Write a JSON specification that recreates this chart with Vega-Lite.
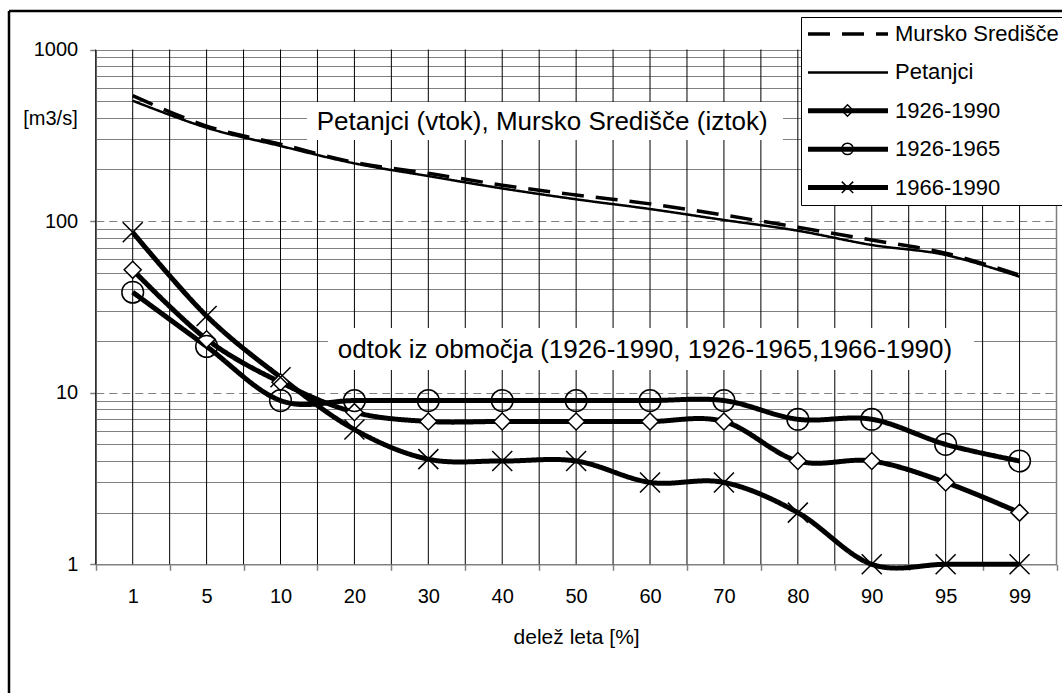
{
  "$schema": "https://vega.github.io/schema/vega-lite/v6.json",
  "width": 1053,
  "height": 682,
  "autosize": "none",
  "padding": {"left": 9, "top": 11, "right": 0, "bottom": 0},
  "background": "white",
  "config": {
    "font": "Liberation Sans",
    "view": {"stroke": "black", "strokeWidth": 2.5, "fill": "white", "strokeDash": [1053, 1735, 682, 0]}
  },
  "data": {
    "values": [
      {"p": "1", "s": "Mursko Središče", "q": 538},
      {"p": "5", "s": "Mursko Središče", "q": 358},
      {"p": "10", "s": "Mursko Središče", "q": 281},
      {"p": "20", "s": "Mursko Središče", "q": 220},
      {"p": "30", "s": "Mursko Središče", "q": 190},
      {"p": "40", "s": "Mursko Središče", "q": 162},
      {"p": "50", "s": "Mursko Središče", "q": 142},
      {"p": "60", "s": "Mursko Središče", "q": 126},
      {"p": "70", "s": "Mursko Središče", "q": 108.5},
      {"p": "80", "s": "Mursko Središče", "q": 92},
      {"p": "90", "s": "Mursko Središče", "q": 77.6},
      {"p": "95", "s": "Mursko Središče", "q": 65},
      {"p": "99", "s": "Mursko Središče", "q": 48.5},
      {"p": "1", "s": "Petanjci", "q": 503},
      {"p": "5", "s": "Petanjci", "q": 350},
      {"p": "10", "s": "Petanjci", "q": 274},
      {"p": "20", "s": "Petanjci", "q": 217},
      {"p": "30", "s": "Petanjci", "q": 183},
      {"p": "40", "s": "Petanjci", "q": 155},
      {"p": "50", "s": "Petanjci", "q": 134},
      {"p": "60", "s": "Petanjci", "q": 117.6},
      {"p": "70", "s": "Petanjci", "q": 101.5},
      {"p": "80", "s": "Petanjci", "q": 87.9},
      {"p": "90", "s": "Petanjci", "q": 72.6},
      {"p": "95", "s": "Petanjci", "q": 63.5},
      {"p": "99", "s": "Petanjci", "q": 47.4},
      {"p": "1", "s": "1926-1990", "q": 52},
      {"p": "5", "s": "1926-1990", "q": 20.5},
      {"p": "10", "s": "1926-1990", "q": 11.5},
      {"p": "20", "s": "1926-1990", "q": 7.7},
      {"p": "30", "s": "1926-1990", "q": 6.8},
      {"p": "40", "s": "1926-1990", "q": 6.8},
      {"p": "50", "s": "1926-1990", "q": 6.8},
      {"p": "60", "s": "1926-1990", "q": 6.8},
      {"p": "70", "s": "1926-1990", "q": 6.8},
      {"p": "80", "s": "1926-1990", "q": 4},
      {"p": "90", "s": "1926-1990", "q": 4},
      {"p": "95", "s": "1926-1990", "q": 3},
      {"p": "99", "s": "1926-1990", "q": 2},
      {"p": "1", "s": "1926-1965", "q": 38.5},
      {"p": "5", "s": "1926-1965", "q": 18.6},
      {"p": "10", "s": "1926-1965", "q": 9},
      {"p": "20", "s": "1926-1965", "q": 9},
      {"p": "30", "s": "1926-1965", "q": 9},
      {"p": "40", "s": "1926-1965", "q": 9},
      {"p": "50", "s": "1926-1965", "q": 9},
      {"p": "60", "s": "1926-1965", "q": 9},
      {"p": "70", "s": "1926-1965", "q": 9},
      {"p": "80", "s": "1926-1965", "q": 7},
      {"p": "90", "s": "1926-1965", "q": 7},
      {"p": "95", "s": "1926-1965", "q": 5},
      {"p": "99", "s": "1926-1965", "q": 4},
      {"p": "1", "s": "1966-1990", "q": 86},
      {"p": "5", "s": "1966-1990", "q": 28},
      {"p": "10", "s": "1966-1990", "q": 12.3},
      {"p": "20", "s": "1966-1990", "q": 6.1},
      {"p": "30", "s": "1966-1990", "q": 4.1},
      {"p": "40", "s": "1966-1990", "q": 4},
      {"p": "50", "s": "1966-1990", "q": 4},
      {"p": "60", "s": "1966-1990", "q": 3},
      {"p": "70", "s": "1966-1990", "q": 3},
      {"p": "80", "s": "1966-1990", "q": 2},
      {"p": "90", "s": "1966-1990", "q": 1},
      {"p": "95", "s": "1966-1990", "q": 1},
      {"p": "99", "s": "1966-1990", "q": 1}
    ]
  },
  "layer": [
    {
      "transform": [{"filter": "datum.s === 'Petanjci'"}],
      "mark": {"type": "rule", "color": "black", "strokeWidth": 1},
      "encoding": {
        "x": {
          "field": "p",
          "type": "ordinal",
          "scale": {
            "type": "band",
            "domain": ["1", "5", "10", "20", "30", "40", "50", "60", "70", "80", "90", "95", "99"],
            "range": [86.75, 1047.5],
            "paddingInner": 0,
            "paddingOuter": 0
          },
          "axis": {
            "orient": "bottom",
            "offset": -128.7,
            "tickBand": "extent",
            "grid": false,
            "domain": true,
            "domainColor": "#808080",
            "domainWidth": 1.5,
            "ticks": true,
            "tickSize": 6,
            "tickColor": "#808080",
            "tickWidth": 1.5,
            "labelFontSize": 20,
            "labelFont": "Liberation Sans",
            "labelColor": "black",
            "labelAngle": 0,
            "labelBaseline": "middle",
            "labelPadding": 26,
            "title": "delež leta [%]",
            "titleFont": "Liberation Sans",
            "titleFontSize": 21,
            "titleFontWeight": "normal",
            "titleColor": "black",
            "titleY": 72.7,
            "titleBaseline": "middle"
          }
        },
        "y": {"datum": 1, "type": "quantitative"},
        "y2": {"datum": 1000}
      }
    },
    {
      "transform": [{"filter": "datum.s === 'Petanjci'"}],
      "mark": {"type": "rule", "color": "black", "strokeWidth": 1},
      "encoding": {
        "x": {"field": "p", "type": "ordinal", "bandPosition": 0},
        "y": {"datum": 1, "type": "quantitative"},
        "y2": {"datum": 1000}
      }
    },
    {
      "data": {"values": [{"t": "edge"}]},
      "mark": {"type": "rule", "color": "#808080", "strokeWidth": 1.5},
      "encoding": {
        "x": {"datum": "99", "type": "ordinal", "bandPosition": 1},
        "y": {"datum": 1, "type": "quantitative"},
        "y2": {"datum": 1000}
      }
    },
    {
      "data": {"values": [{"t": "box"}]},
      "mark": {"type": "rect", "fill": "white", "stroke": null},
      "encoding": {
        "x": {"datum": "10", "type": "ordinal", "bandPosition": 0.859},
        "x2": {"datum": "80", "bandPosition": 0.3},
        "y": {"datum": 494, "type": "quantitative"},
        "y2": {"datum": 297}
      }
    },
    {
      "data": {"values": [{"t": "box"}]},
      "mark": {"type": "rect", "fill": "white", "stroke": null},
      "encoding": {
        "x": {"datum": "20", "type": "ordinal", "bandPosition": 0.142},
        "x2": {"datum": "95", "bandPosition": 0.885},
        "y": {"datum": 23.8, "type": "quantitative"},
        "y2": {"datum": 13.56}
      }
    },
    {
      "data": {"values": [{"t": "Petanjci (vtok), Mursko Središče (iztok)"}]},
      "mark": {"type": "text", "font": "Liberation Sans", "fontSize": 26, "color": "black", "align": "center", "baseline": "middle", "dx": 3},
      "encoding": {
        "x": {"datum": "50", "type": "ordinal", "bandPosition": 0},
        "y": {"datum": 380, "type": "quantitative"},
        "text": {"field": "t"}
      }
    },
    {
      "data": {"values": [{"t": "odtok iz območja (1926-1990, 1926-1965,1966-1990)"}]},
      "mark": {"type": "text", "font": "Liberation Sans", "fontSize": 26, "color": "black", "align": "center", "baseline": "middle", "dx": -5},
      "encoding": {
        "x": {"datum": "60", "type": "ordinal"},
        "y": {"datum": 17.7, "type": "quantitative"},
        "text": {"field": "t"}
      }
    },
    {
      "mark": {"type": "line", "interpolate": "cardinal", "color": "black", "strokeCap": "butt", "strokeJoin": "round"},
      "encoding": {
        "x": {"field": "p", "type": "ordinal"},
        "y": {
          "field": "q",
          "type": "quantitative",
          "scale": {"type": "log", "domain": [1, 1000], "range": [553.3, 38.5]},
          "axis": {
            "orient": "left",
            "offset": -86.75,
            "values": [1, 2, 3, 4, 5, 6, 7, 8, 9, 10, 20, 30, 40, 50, 60, 70, 80, 90, 100, 200, 300, 400, 500, 600, 700, 800, 900, 1000],
            "format": "d",
            "labelExpr": "indexof([1, 10, 100, 1000], datum.value) >= 0 ? datum.label : ''",
            "labelOverlap": false,
            "labelFlush": false,
            "grid": true,
            "gridColor": "#808080",
            "gridWidth": 1,
            "gridOpacity": 1,
            "gridDash": {"condition": {"test": "datum.value === 10 || datum.value === 100", "value": [8, 5]}, "value": []},
            "ticks": true,
            "tickSize": 6,
            "tickColor": "#808080",
            "tickWidth": 1.5,
            "tickOpacity": {"condition": {"test": "indexof([1, 10, 100, 1000], datum.value) >= 0", "value": 1}, "value": 0},
            "domain": true,
            "domainColor": "#808080",
            "domainWidth": 1.5,
            "labelFontSize": 20,
            "labelFont": "Liberation Sans",
            "labelColor": "black",
            "labelPadding": 12,
            "title": "[m3/s]",
            "titleFont": "Liberation Sans",
            "titleFontSize": 20,
            "titleFontWeight": "normal",
            "titleColor": "black",
            "titleAngle": 0,
            "titleAlign": "center",
            "titleBaseline": "middle",
            "titleX": -45.75,
            "titleY": 107
          }
        },
        "strokeDash": {
          "field": "s",
          "type": "nominal",
          "scale": {
            "domain": ["Mursko Središče", "Petanjci", "1926-1990", "1926-1965", "1966-1990"],
            "range": [[22, 12], [1, 0], [1, 0], [1, 0], [1, 0]]
          },
          "legend": {
            "orient": "none",
            "legendX": 792,
            "legendY": 6,
            "title": null,
            "symbolType": "M-8,0H8",
            "symbolSize": 100,
            "symbolStrokeColor": "black",
            "symbolStrokeWidth": 1.5,
            "symbolOffset": 30,
            "rowPadding": 16.4,
            "padding": 6,
            "labelOffset": 36,
            "labelFont": "Liberation Sans",
            "labelFontSize": 22,
            "labelColor": "black",
            "labelLimit": 400,
            "strokeColor": "black",
            "fillColor": "white",
            "zindex": 0,
            "encode": {
              "symbols": {
                "update": {
                  "strokeWidth": {"signal": "datum.value === 'Petanjci' ? 2.5 : datum.value === 'Mursko Središče' ? 3.5 : 5"}
                }
              }
            }
          }
        },
        "strokeWidth": {
          "condition": [
            {"test": "datum.s === 'Petanjci'", "value": 2.5},
            {"test": "datum.s === 'Mursko Središče'", "value": 3.5}
          ],
          "value": 5
        }
      }
    },
    {
      "transform": [{"filter": "datum.s !== 'Petanjci' && datum.s !== 'Mursko Središče'"}],
      "mark": {"type": "point", "filled": true, "stroke": "black", "strokeWidth": 1.5, "opacity": 1},
      "encoding": {
        "x": {"field": "p", "type": "ordinal"},
        "y": {"field": "q", "type": "quantitative"},
        "shape": {
          "field": "s",
          "type": "nominal",
          "scale": {
            "domain": ["1926-1990", "1926-1965", "1966-1990"],
            "range": ["diamond", "circle", "M-1,-1L1,1M1,-1L-1,1"]
          },
          "legend": {
            "orient": "none",
            "legendX": 832,
            "legendY": 88.5,
            "title": null,
            "symbolSize": 130,
            "symbolStrokeColor": "black",
            "symbolStrokeWidth": 1.5,
            "symbolFillColor": "white",
            "clipHeight": 22,
            "rowPadding": 16.4,
            "padding": 0,
            "labelExpr": "''",
            "zindex": 1
          }
        },
        "size": {
          "condition": [
            {"test": "datum.s === '1926-1990'", "value": 289},
            {"test": "datum.s === '1926-1965'", "value": 470}
          ],
          "value": 400
        },
        "fill": {
          "condition": {"test": "datum.s === '1926-1990'", "value": "white"},
          "value": "transparent"
        }
      }
    }
  ]
}
